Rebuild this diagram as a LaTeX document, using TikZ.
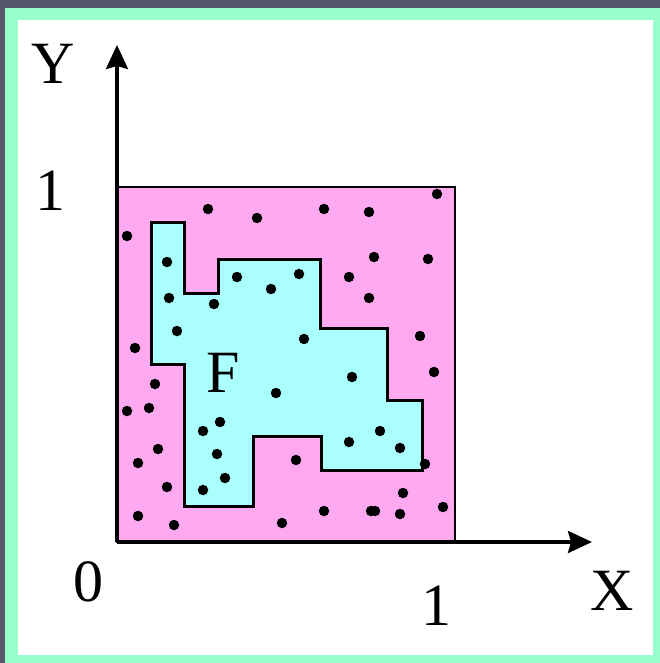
\documentclass[tikz,border=0pt]{standalone}
\usepackage{fontspec}
\setmainfont{Liberation Serif}
\usetikzlibrary{arrows.meta}
\definecolor{darkbg}{HTML}{55566A}
\definecolor{mint}{HTML}{99FFCC}
\definecolor{pinkfill}{HTML}{FFAAF0}
\definecolor{cyanfill}{HTML}{AAFFFF}
\tikzset{
  lbl/.style={inner sep=0pt, font=\fontsize{60}{60}\selectfont},
  axis/.style={line width=3.2pt, -{Stealth[length=24pt,width=22pt,inset=3pt]}},
  dot/.style={circle, fill=black, inner sep=0pt, minimum size=10.5pt},
}
\begin{document}
\begin{tikzpicture}[x=1pt,y=-1pt]
\useasboundingbox (0,0) rectangle (660,663);
\fill[darkbg] (0,0) rectangle (660,663);
\fill[mint] (5,8) rectangle (660,663);
\fill[white] (18,20) rectangle (653,655);
% unit square
\filldraw[fill=pinkfill, draw=black, line width=2.8pt] (117,187) rectangle (455,542);
% region F
\filldraw[fill=cyanfill, draw=black, line width=3pt]
 (151,222) -- (184,222) -- (184,293) -- (218,293) -- (218,259) -- (320,259)
 -- (320,328) -- (387,328) -- (387,400) -- (422,400) -- (422,470) -- (321,470)
 -- (321,436) -- (253,436) -- (253,506) -- (184,506) -- (184,364) -- (151,364) -- cycle;
% axes
\coordinate (O) at (117,542);
\coordinate (ytip) at (117,45);
\coordinate (xtip) at (592,542);
\draw[axis] (O) -- (ytip);
\draw[axis] (O) -- (xtip);
% labels
\node[lbl] (ylab) at (53,64) {Y};
\node[lbl] (xlab) at (612,591) {X};
\node[lbl] (y1) at (50,191) {1};
\node[lbl] (x1) at (436,606) {1};
\node[lbl] (zero) at (88,582) {0};
\node[lbl] (flab) at (223,373) {F};
% dots
\foreach \p [count=\i] in {
 (208,209),(257,218),(324,209),(369,212),(437,194),(127,236),
 (167,262),(237,277),(299,274),(271,289),(349,277),(374,257),(428,259),
 (169,298),(214,304),(369,298),(177,331),(304,339),(135,348),(420,336),
 (434,372),(352,377),(155,384),(276,393),(127,411),(149,408),
 (220,422),(203,431),(217,454),(158,449),(138,463),(296,460),
 (380,431),(349,442),(400,448),(425,464),
 (225,478),(167,487),(203,490),(403,493),
 (138,516),(174,525),(282,523),(324,511),(371,511),(375,511),(400,514),(443,507)}
 \node[dot] (d\i) at \p {};
\end{tikzpicture}
\end{document}
